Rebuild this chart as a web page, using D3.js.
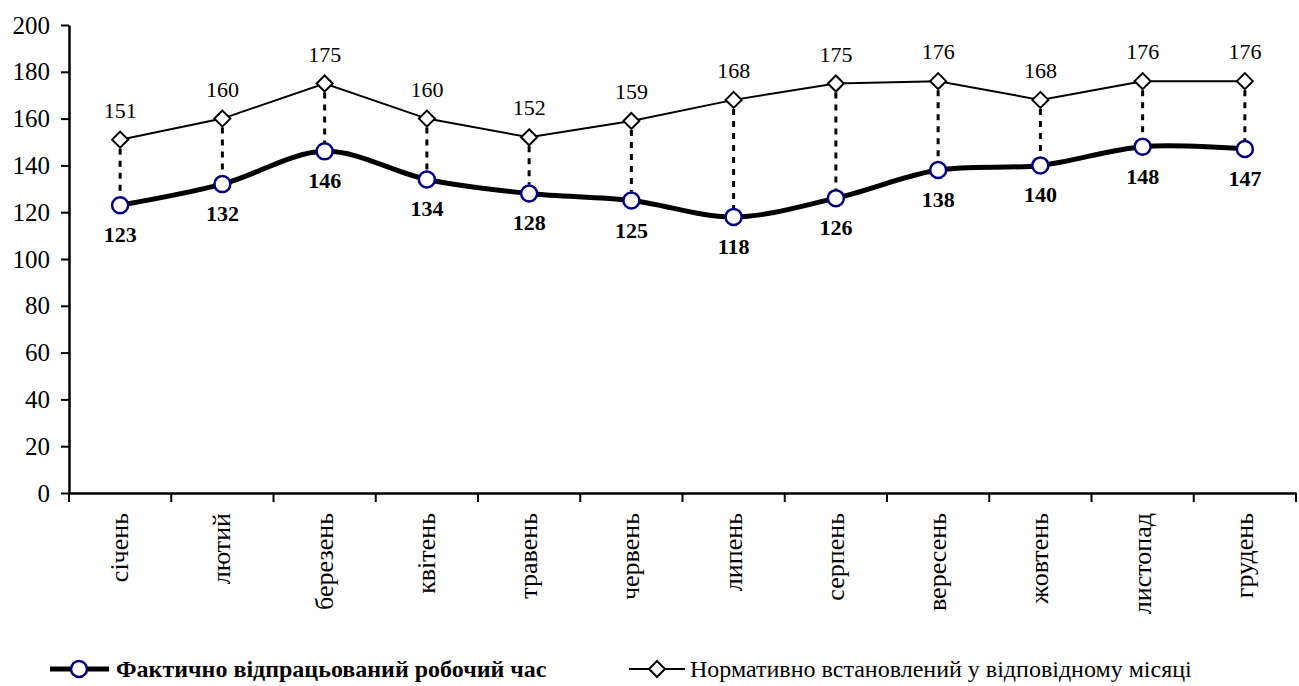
<!DOCTYPE html>
<html><head><meta charset="utf-8">
<script src="https://cdn.jsdelivr.net/npm/d3@7"></script>
<style>
html,body{margin:0;padding:0;background:#fff;}
</style></head>
<body><svg id="c" width="1299" height="686"></svg>
<script>
const months = ["січень","лютий","березень","квітень","травень","червень","липень","серпень","вересень","жовтень","листопад","грудень"];
const actual = [123,132,146,134,128,125,118,126,138,140,148,147];
const normative = [151,160,175,160,152,159,168,175,176,168,176,176];
const yTicks = [0,20,40,60,80,100,120,140,160,180,200];
const seriesNames = ["Фактично відпрацьований робочий час","Нормативно встановлений у відповідному місяці"];

const FONT = "'Liberation Serif', 'Times New Roman', serif";
const svg = d3.select("#c").attr("font-family", FONT);
const L = 69, R = 1296, T = 25, B = 493;
const x = d3.scaleBand().domain(months).range([L, R]);
const y = d3.scaleLinear().domain([0,200]).range([B, T]);
const cx = m => x(m) + x.bandwidth()/2;

// Y axis
const ya = svg.append("g").attr("transform",`translate(${L},0)`)
  .call(d3.axisLeft(y).tickValues(yTicks).tickSize(8).tickPadding(11).tickSizeOuter(0));
ya.attr("font-family", FONT).attr("font-size", null);
ya.select(".domain").attr("stroke","#000").attr("stroke-width",2.5);
ya.selectAll(".tick line").attr("stroke","#000").attr("stroke-width",2);
ya.selectAll(".tick text").attr("font-size","25px").attr("fill","#000");

// X axis
const xa = svg.append("g").attr("transform",`translate(0,${B})`)
  .call(d3.axisBottom(x).tickSize(0).tickSizeOuter(0));
xa.attr("font-family", FONT).attr("font-size", null);
xa.select(".domain").attr("stroke","#000").attr("stroke-width",2.5);
xa.selectAll(".tick text").remove();
const bounds = months.map(m => x(m)).concat([R]);
xa.selectAll(".btick").data(bounds).enter().append("line")
  .attr("x1",d=>d).attr("x2",d=>d).attr("y1",0).attr("y2",9)
  .attr("stroke","#000").attr("stroke-width",2);
xa.selectAll(".mlab").data(months).enter().append("text")
  .attr("transform",d=>`translate(${cx(d)+8},${20}) rotate(-90)`)
  .attr("text-anchor","end")
  .attr("font-size","26px")
  .text(d=>d);

// drop lines
svg.append("g").selectAll("line").data(months).enter().append("line")
  .attr("x1",d=>cx(d)).attr("x2",d=>cx(d))
  .attr("y1",(d,i)=>y(normative[i])+9).attr("y2",(d,i)=>y(actual[i])-9)
  .attr("stroke","#000").attr("stroke-width",3).attr("stroke-dasharray","6,6");

const lineN = d3.line().x((d,i)=>cx(months[i])).y(d=>y(d));
svg.append("path").datum(normative).attr("d",lineN)
  .attr("fill","none").attr("stroke","#000").attr("stroke-width",2);
const lineA = d3.line().x((d,i)=>cx(months[i])).y(d=>y(d)).curve(d3.curveCardinal.tension(0));
svg.append("path").datum(actual).attr("d",lineA)
  .attr("fill","none").attr("stroke","#000").attr("stroke-width",5);

const dia = (xx,yy,s) => `M${xx},${yy-s}L${xx+s},${yy}L${xx},${yy+s}L${xx-s},${yy}Z`;
svg.append("g").selectAll("path").data(normative).enter().append("path")
  .attr("d",(d,i)=>dia(cx(months[i]),y(d),8))
  .attr("fill","#fff").attr("stroke","#000").attr("stroke-width",2);
svg.append("g").selectAll("circle").data(actual).enter().append("circle")
  .attr("cx",(d,i)=>cx(months[i])).attr("cy",d=>y(d)).attr("r",8)
  .attr("fill","#fff").attr("stroke","#000080").attr("stroke-width",2.5);

svg.append("g").selectAll("text").data(normative).enter().append("text")
  .attr("x",(d,i)=>cx(months[i])).attr("y",d=>y(d)-22)
  .attr("text-anchor","middle").attr("font-size","22px").text(d=>d);
svg.append("g").selectAll("text").data(actual).enter().append("text")
  .attr("x",(d,i)=>cx(months[i])).attr("y",d=>y(d)+37)
  .attr("text-anchor","middle").attr("font-size","22px").attr("font-weight","bold").text(d=>d);

const LY = 669;
const lg = svg.append("g");
lg.append("line").attr("x1",50).attr("x2",109).attr("y1",LY).attr("y2",LY).attr("stroke","#000").attr("stroke-width",5);
lg.append("circle").attr("cx",79).attr("cy",LY).attr("r",8).attr("fill","#fff").attr("stroke","#000080").attr("stroke-width",2.5);
lg.append("text").attr("x",116).attr("y",LY+8).attr("font-size","24px").attr("font-weight","bold").text(seriesNames[0]);
lg.append("line").attr("x1",629).attr("x2",685).attr("y1",LY).attr("y2",LY).attr("stroke","#000").attr("stroke-width",2);
lg.append("path").attr("d",dia(657,LY,8)).attr("fill","#fff").attr("stroke","#000").attr("stroke-width",2);
lg.append("text").attr("x",690).attr("y",LY+8).attr("font-size","24px").text(seriesNames[1]);

svg.selectAll("text").style("font-family", FONT).attr("fill","#000");
</script></body></html>
